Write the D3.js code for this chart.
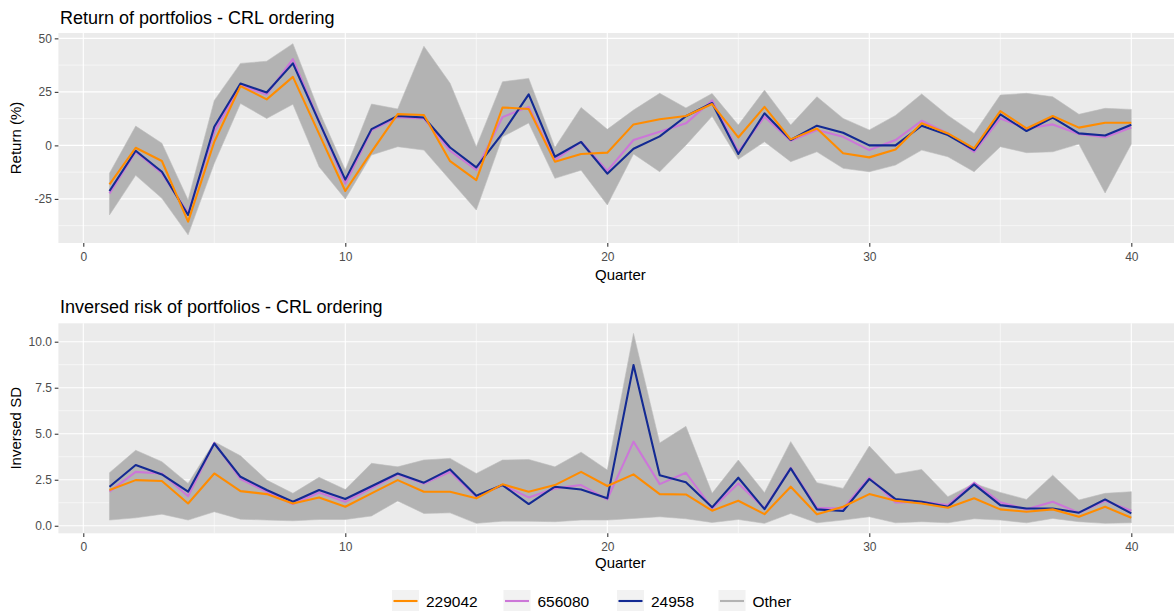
<!DOCTYPE html>
<html>
<head>
<meta charset="utf-8">
<script src="https://cdn.jsdelivr.net/npm/d3@7"></script>
<style>
  html, body { margin: 0; padding: 0; background: #ffffff; }
  svg { display: block; font-family: "Liberation Sans", Arial, sans-serif; }
</style>
</head>
<body>
<svg id="chart" width="1174" height="611"></svg>
<script>
// Quarter index shared by both panels
const quarters = [1,2,3,4,5,6,7,8,9,10,11,12,13,14,15,16,17,18,19,20,
                  21,22,23,24,25,26,27,28,29,30,31,32,33,34,35,36,37,38,39,40];

// Return (%) per quarter for the highlighted portfolios
const return229042 = [-18.2,-1.1,-7.3,-35.6,1.7,27.7,21.5,32,5.4,-21.3,-3,14.6,14.2,-7.4,-16.2,17.7,17,-7.6,-4,-3.4,
                      9.8,12.2,13.7,19.3,3.7,18,2.8,7.9,-3.7,-5.6,-1.9,10.3,5.6,-1.4,16,7.9,13.7,8.3,10.6,10.6];
const return656080 = [-22.4,-3,-13,-31.7,6.4,28,23.8,40.3,11.3,-17.9,7,13.2,12.6,-2.5,-11.5,13.2,18,-6.8,1.7,-11.9,
                      2.5,6.4,10.3,21,-3,13.4,2.2,7.2,4,-2.2,2.5,11.5,5.6,-3,12.6,7.9,9.8,5.3,3.8,8.4];
const return24958  = [-21.3,-2.5,-12.3,-32.5,8.7,28.9,24.7,38.3,11,-16,7.6,13.8,13,-1,-10.3,5.6,23.8,-5.3,1.6,-13.2,
                      -1.6,4.2,13.6,19.8,-4,15,2.5,9.2,5.9,0,0,9.2,4.8,-2.2,14.5,6.7,13,5.6,4.6,9.6];
// Envelope of all other portfolios' returns
const returnOtherHigh = [-13,9,1,-25.5,21,38.3,39.3,47.5,16,-11.5,19.3,17,46.3,29,-0.6,29.7,31.3,-1,17.7,7.5,
                         16.5,24.3,17.5,24.2,9.5,25.8,9.5,22.7,12.6,7.2,14,24,14,5.6,23.5,24.3,22.7,14.5,17.3,16.8];
const returnOtherLow  = [-32.5,-14,-24.7,-41.8,-8.4,19.6,12.6,19.2,-10,-25,-4.5,-0.6,-2.2,-16.2,-30.2,4,10.5,-15.4,-11.6,-27.8,
                         -4,-12.3,0.1,13.6,-6.5,1.7,-7.6,-3,-10.7,-12.3,-9.2,-2.2,-5.3,-12.3,-0.6,-3.4,-3,0.6,-22.2,0.6];

// Inversed SD per quarter for the highlighted portfolios
const risk229042 = [1.94,2.48,2.43,1.21,2.84,1.88,1.72,1.21,1.54,1.03,1.76,2.48,1.85,1.85,1.49,2.25,1.85,2.21,2.93,2.16,
                    2.79,1.72,1.7,0.82,1.36,0.63,2.12,0.62,1.03,1.72,1.36,1.21,0.98,1.49,0.89,0.76,0.89,0.49,1.03,0.43];
const risk656080 = [1.85,2.93,2.84,1.6,4.5,2.54,1.85,1.18,1.81,1.3,2.05,2.8,2.3,2.93,1.58,2.21,1.54,2.03,2.21,1.43,
                    4.57,2.26,2.88,0.94,2.3,0.94,3.15,0.98,0.94,2.61,1.27,1.3,1.12,2.34,1.27,0.89,1.3,0.71,1.36,0.82];
const risk24958  = [2.12,3.3,2.79,1.85,4.47,2.66,1.94,1.3,1.94,1.45,2.15,2.84,2.34,3.06,1.63,2.21,1.18,2.12,1.97,1.49,
                    8.73,2.75,2.36,1.0,2.61,0.9,3.12,0.89,0.8,2.54,1.45,1.3,1.03,2.25,1.12,0.94,0.94,0.71,1.43,0.67];
// Envelope of all other portfolios' inversed SD
const riskOtherHigh = [2.88,4.1,3.48,2.3,4.56,3.8,2.48,1.76,2.63,1.97,3.39,3.2,3.57,3.66,2.84,3.57,3.6,3.2,4.0,3.03,
                       10.45,4.5,5.4,1.76,3.57,1.8,4.57,2.34,2.03,4.33,2.81,3.06,1.58,2.3,1.81,1.43,2.75,1.4,1.76,1.85];
const riskOtherLow  = [0.31,0.43,0.63,0.31,0.76,0.36,0.31,0.27,0.34,0.34,0.53,1.35,0.67,0.7,0.13,0.25,0.25,0.22,0.31,0.31,
                       0.4,0.49,0.38,0.18,0.34,0.13,0.67,0.16,0.31,0.49,0.16,0.22,0.16,0.38,0.31,0.16,0.4,0.22,0.13,0.16];

// Axis breaks and labels
const xBreaks = [0, 10, 20, 30, 40];
const xMinorBreaks = [5, 15, 25, 35];
const returnBreaks = [-25, 0, 25, 50];
const returnMinorBreaks = [-37.5, -12.5, 12.5, 37.5];
const riskBreaks = [0, 2.5, 5, 7.5, 10];
const riskMinorBreaks = [1.25, 3.75, 6.25, 8.75];

// Legend entries
const seriesNames = ["229042", "656080", "24958", "Other"];
const seriesColors = {"229042": "#FF8C00", "656080": "#CC77D8", "24958": "#132A93", "Other": "#B3B3B3"};

const svg = d3.select("#chart");

const x = d3.scaleLinear().domain([-0.95, 41.95]).range([58.4, 1182.4]);

const panels = [
  {
    id: "ret", title: "Return of portfolios - CRL ordering", yTitle: "Return (%)",
    top: 33, bottom: 243, domain: [-45.6, 52.5],
    breaks: returnBreaks, minor: returnMinorBreaks, fmt: d => String(d),
    high: returnOtherHigh, low: returnOtherLow,
    series: {"229042": return229042, "656080": return656080, "24958": return24958},
    titleY: 24, xLabelY: 280
  },
  {
    id: "risk", title: "Inversed risk of portfolios - CRL ordering", yTitle: "Inversed SD",
    top: 323.3, bottom: 533.3, domain: [-0.41, 11.0],
    breaks: riskBreaks, minor: riskMinorBreaks, fmt: d => d.toFixed(1),
    high: riskOtherHigh, low: riskOtherLow,
    series: {"229042": risk229042, "656080": risk656080, "24958": risk24958},
    titleY: 312.5, xLabelY: 568
  }
];

panels.forEach(p => {
  const y = d3.scaleLinear().domain(p.domain).range([p.bottom, p.top]);
  const [x0, x1] = x.range();
  const g = svg.append("g");

  // panel background
  g.append("rect").attr("x", x0).attr("y", p.top)
    .attr("width", x1 - x0).attr("height", p.bottom - p.top).attr("fill", "#EBEBEB");

  // grid lines
  g.selectAll(".hminor").data(p.minor).join("line")
    .attr("x1", x0).attr("x2", x1).attr("y1", d => y(d)).attr("y2", d => y(d))
    .attr("stroke", "#ffffff").attr("stroke-width", 0.55);
  g.selectAll(".vminor").data(xMinorBreaks).join("line")
    .attr("y1", p.top).attr("y2", p.bottom).attr("x1", d => x(d)).attr("x2", d => x(d))
    .attr("stroke", "#ffffff").attr("stroke-width", 0.55);
  g.selectAll(".hmajor").data(p.breaks).join("line")
    .attr("x1", x0).attr("x2", x1).attr("y1", d => y(d)).attr("y2", d => y(d))
    .attr("stroke", "#ffffff").attr("stroke-width", 1.1);
  g.selectAll(".vmajor").data(xBreaks).join("line")
    .attr("y1", p.top).attr("y2", p.bottom).attr("x1", d => x(d)).attr("x2", d => x(d))
    .attr("stroke", "#ffffff").attr("stroke-width", 1.1);

  // clip for data marks
  svg.append("clipPath").attr("id", "clip-" + p.id)
    .append("rect").attr("x", x0).attr("y", p.top).attr("width", x1 - x0).attr("height", p.bottom - p.top);
  const plot = g.append("g").attr("clip-path", `url(#clip-${p.id})`);

  // band of the other portfolios
  const band = d3.area()
    .x((d, i) => x(quarters[i]))
    .y0((d, i) => y(p.low[i]))
    .y1((d, i) => y(p.high[i]));
  plot.append("path").datum(quarters).attr("d", band)
    .attr("fill", seriesColors.Other)
    .attr("stroke", "#BDBDBD").attr("stroke-width", 0.6).attr("stroke-linejoin", "round");

  // highlighted portfolios
  const line = d3.line().x((d, i) => x(quarters[i])).y(d => y(d));
  ["656080", "24958", "229042"].forEach(name => {
    plot.append("path").datum(p.series[name]).attr("d", line)
      .attr("fill", "none").attr("stroke", seriesColors[name])
      .attr("stroke-width", 2.1).attr("stroke-linejoin", "round");
  });

  // axes
  const xAxis = g.append("g").attr("transform", `translate(0,${p.bottom})`)
    .call(d3.axisBottom(x).tickValues(xBreaks).tickFormat(d => String(d)).tickSize(3.65).tickPadding(6));
  const yAxis = g.append("g").attr("transform", `translate(${x0},0)`)
    .call(d3.axisLeft(y).tickValues(p.breaks).tickFormat(p.fmt).tickSize(3.65).tickPadding(2.8));
  [xAxis, yAxis].forEach(a => {
    a.select(".domain").remove();
    a.selectAll(".tick line").attr("stroke", "#333333").attr("stroke-width", 1.07);
    a.selectAll(".tick text").attr("fill", "#4D4D4D")
      .style("font-size", "12px").style("font-family", "'Liberation Sans', Arial, sans-serif");
  });

  // titles
  svg.append("text").attr("x", 60).attr("y", p.titleY)
    .style("font-size", "18px").attr("fill", "#000000").text(p.title);
  svg.append("text").attr("x", (x0 + x1) / 2).attr("y", p.xLabelY)
    .attr("text-anchor", "middle").style("font-size", "15px").attr("fill", "#000000").text("Quarter");
  svg.append("text")
    .attr("transform", `translate(21,${(p.top + p.bottom) / 2}) rotate(-90)`)
    .attr("text-anchor", "middle").style("font-size", "15px").attr("fill", "#000000").text(p.yTitle);
});

// legend along the bottom
const legendKeyX = [392, 503.5, 617, 718.5];
const legend = svg.append("g");
seriesNames.forEach((name, i) => {
  const kx = legendKeyX[i];
  legend.append("rect").attr("x", kx).attr("y", 590).attr("width", 27).attr("height", 22).attr("fill", "#F2F2F2");
  legend.append("line").attr("x1", kx + 1.5).attr("x2", kx + 25.5).attr("y1", 601).attr("y2", 601)
    .attr("stroke", seriesColors[name]).attr("stroke-width", 2.1);
  legend.append("text").attr("x", kx + 34).attr("y", 606.5)
    .style("font-size", "15.5px").attr("fill", "#000000").text(name);
});
</script>
</body>
</html>
